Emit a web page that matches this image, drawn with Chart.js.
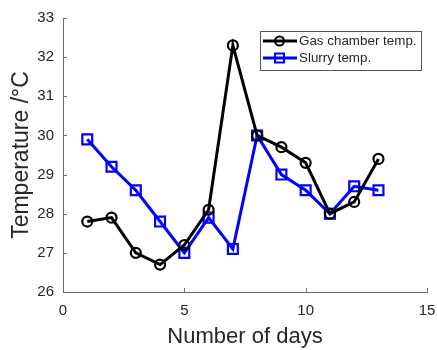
<!DOCTYPE html>
<html>
<head>
<meta charset="utf-8">
<script src="https://cdn.jsdelivr.net/npm/chart.js@4.4.0/dist/chart.umd.min.js"></script>
<style>
  html, body { margin: 0; padding: 0; background: #fff; }
  #wrap { width: 437px; height: 350px; }
</style>
</head>
<body>
<div id="wrap"><canvas id="chart"></canvas></div>
<script>
const days = [1, 2, 3, 4, 5, 6, 7, 8, 9, 10, 11, 12, 13];
const gasChamberTemp = [27.8, 27.9, 27.0, 26.7, 27.2, 28.1, 32.3, 30.0, 29.7, 29.3, 28.0, 28.3, 29.4];
const slurryTemp = [29.9, 29.2, 28.6, 27.8, 27.0, 27.9, 27.1, 30.0, 29.0, 28.6, 28.0, 28.7, 28.6];
const xTicks = [0, 5, 10, 15];
const yTicks = [26, 27, 28, 29, 30, 31, 32, 33];

const FONT = "'Liberation Sans', Arial, sans-serif";
const AXIS = '#6e6e6e';
const TEXT = '#262626';

const toPoints = (ys) => days.map((d, i) => ({ x: d, y: ys[i] }));

// small inward tick marks, MATLAB style
const innerTicks = {
  id: 'innerTicks',
  afterDraw(chart) {
    const { ctx, chartArea, scales } = chart;
    ctx.save();
    ctx.strokeStyle = AXIS;
    ctx.lineWidth = 1;
    ctx.beginPath();
    xTicks.forEach(v => {
      const px = Math.round(scales.x.getPixelForValue(v)) + 0.5;
      ctx.moveTo(px, chartArea.bottom);
      ctx.lineTo(px, chartArea.bottom - 4);
    });
    yTicks.forEach(v => {
      const py = Math.round(scales.y.getPixelForValue(v)) + 0.5;
      ctx.moveTo(chartArea.left, py);
      ctx.lineTo(chartArea.left + 4, py);
    });
    ctx.stroke();
    ctx.restore();
  }
};

// legend box with line + marker samples
const boxLegend = {
  id: 'boxLegend',
  afterDraw(chart) {
    const { ctx } = chart;
    const x0 = 260, y0 = 31, w = 161, h = 39;
    ctx.save();
    ctx.fillStyle = '#fff';
    ctx.fillRect(x0, y0, w, h);
    ctx.strokeStyle = '#555';
    ctx.lineWidth = 1;
    ctx.strokeRect(x0 + 0.5, y0 + 0.5, w, h);
    ctx.font = '13.4px ' + FONT;
    ctx.textBaseline = 'middle';
    chart.data.datasets.forEach((ds, i) => {
      const cy = y0 + 10 + i * 17;
      ctx.strokeStyle = ds.borderColor;
      ctx.lineWidth = 3;
      ctx.beginPath();
      ctx.moveTo(x0 + 3, cy);
      ctx.lineTo(x0 + 37, cy);
      ctx.stroke();
      ctx.lineWidth = 2;
      ctx.beginPath();
      if (ds.pointStyle === 'rect') {
        ctx.rect(x0 + 15, cy - 4.5, 9, 9);
      } else {
        ctx.arc(x0 + 19.5, cy, 4.5, 0, Math.PI * 2);
      }
      ctx.stroke();
      ctx.fillStyle = TEXT;
      ctx.fillText(ds.label, x0 + 39, cy + 0.5);
    });
    ctx.restore();
  }
};

new Chart(document.getElementById('chart'), {
  type: 'line',
  data: {
    datasets: [
      {
        label: 'Gas chamber temp.',
        data: toPoints(gasChamberTemp),
        borderColor: '#000000',
        backgroundColor: 'rgba(0,0,0,0)',
        borderWidth: 3,
        pointStyle: 'circle',
        pointRadius: 5,
        pointBorderWidth: 2.2,
        pointBackgroundColor: 'rgba(0,0,0,0)',
        tension: 0
      },
      {
        label: 'Slurry temp.',
        data: toPoints(slurryTemp),
        borderColor: '#0000ff',
        backgroundColor: 'rgba(0,0,0,0)',
        borderWidth: 3,
        pointStyle: 'rect',
        pointRadius: 7,
        pointBorderWidth: 2.2,
        pointBackgroundColor: 'rgba(0,0,0,0)',
        tension: 0
      }
    ]
  },
  options: {
    responsive: true,
    maintainAspectRatio: false,
    animation: false,
    layout: { padding: { top: 18, right: 10, left: 0, bottom: 0 } },
    plugins: {
      legend: { display: false },
      tooltip: { enabled: false }
    },
    scales: {
      x: {
        type: 'linear',
        min: 0,
        max: 15,
        afterBuildTicks: (s) => { s.ticks = xTicks.map(v => ({ value: v })); },
        afterFit: (s) => { s.height = 58; s.paddingRight = 0; s.paddingLeft = 0; },
        grid: { display: false, drawTicks: false },
        border: { display: true, color: AXIS, width: 1 },
        ticks: { color: TEXT, padding: 10, maxRotation: 0, font: { family: FONT, size: 15 } },
        title: {
          display: true,
          text: 'Number of days',
          color: TEXT,
          padding: { top: 0, bottom: 0 },
          font: { family: FONT, size: 22 }
        }
      },
      y: {
        min: 26,
        max: 33,
        afterBuildTicks: (s) => { s.ticks = yTicks.map(v => ({ value: v })); },
        afterFit: (s) => { s.width = 63; },
        grid: { display: false, drawTicks: false },
        border: { display: true, color: AXIS, width: 1 },
        ticks: { color: TEXT, padding: 9, font: { family: FONT, size: 15 } },
        title: {
          display: true,
          text: 'Temperature /°C',
          color: TEXT,
          padding: { top: 8, bottom: 0 },
          font: { family: FONT, size: 23 }
        }
      }
    }
  },
  plugins: [innerTicks, boxLegend]
});
</script>
</body>
</html>
